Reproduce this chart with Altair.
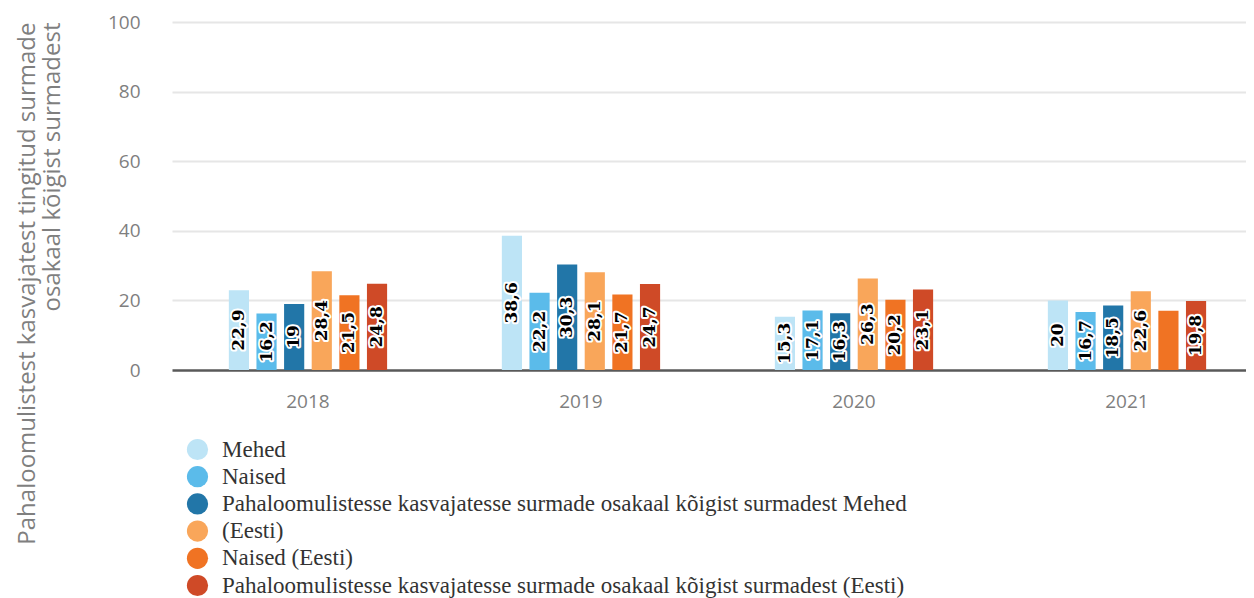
import altair as alt
import pandas as pd

years = ["2018", "2019", "2020", "2021"]
series = [
    "Mehed",
    "Naised",
    "Pahaloomulistesse kasvajatesse surmade osakaal kõigist surmadest Mehed",
    "(Eesti)",
    "Naised (Eesti)",
    "Pahaloomulistesse kasvajatesse surmade osakaal kõigist surmadest (Eesti)",
]
colors = ["#bde4f6", "#5bbbea", "#2276a8", "#f9a65a", "#f07323", "#cf4a27"]

values = {
    "Mehed": [22.9, 38.6, 15.3, 20],
    "Naised": [16.2, 22.2, 17.1, 16.7],
    "Pahaloomulistesse kasvajatesse surmade osakaal kõigist surmadest Mehed": [19, 30.3, 16.3, 18.5],
    "(Eesti)": [28.4, 28.1, 26.3, 22.6],
    "Naised (Eesti)": [21.5, 21.7, 20.2, 17.0],
    "Pahaloomulistesse kasvajatesse surmade osakaal kõigist surmadest (Eesti)": [24.8, 24.7, 23.1, 19.8],
}
labelled = {
    "Naised (Eesti)": [True, True, True, False],
}

rows = []
for s in series:
    for i, y in enumerate(years):
        rows.append({
            "year": y,
            "series": s,
            "value": values[s][i],
            "show": labelled.get(s, [True] * 4)[i],
        })
df = pd.DataFrame(rows)

base = alt.Chart(df).encode(
    x=alt.X("year:N", sort=years, title=None,
            scale=alt.Scale(paddingInner=0.4, paddingOuter=0.167, align=0.593),
            axis=alt.Axis(labelAngle=0, labelFont="Open Sans", labelFontSize=19,
                          labelColor="#7f7f7f", labelPadding=22, ticks=False,
                          domain=False)),
    xOffset=alt.XOffset("series:N", sort=series,
                        scale=alt.Scale(paddingInner=0.27, paddingOuter=0.1)),
)

bars = base.mark_bar().encode(
    y=alt.Y("value:Q", scale=alt.Scale(domain=[0, 100]), title=[
        "Pahaloomulistest kasvajatest tingitud surmade",
        "osakaal kõigist surmadest"],
        axis=alt.Axis(values=[0, 20, 40, 60, 80, 100], ticks=False, domain=False,
                      labelFont="Open Sans", labelFontSize=19, labelColor="#7f7f7f",
                      labelPadding=32,
                      gridColor={"condition": {"test": "datum.value === 0", "value": "#595959"},
                                 "value": "#e6e6e6"},
                      gridWidth={"condition": {"test": "datum.value === 0", "value": 2.5},
                                 "value": 2},
                      titleFont="Open Sans", titleFontSize=24, titleFontWeight="normal",
                      titleColor="#7f7f7f", titleAnchor="end", titleAlign="right",
                      titlePadding=43, titleLineHeight=25)),
    color=alt.Color("series:N", sort=series,
                    scale=alt.Scale(domain=series, range=colors),
                    legend=alt.Legend(title=None, orient="none", legendX=14, legendY=416,
                                      direction="vertical", symbolType="circle",
                                      symbolSize=450, symbolStrokeWidth=0,
                                      labelFont="Liberation Serif", labelFontSize=23,
                                      labelColor="#333333", labelOffset=13,
                                      rowPadding=3.2, padding=0, labelLimit=1000)),
)

text_layer_data = base.transform_filter("datum.show").transform_calculate(
    label="replace(format(datum.value, '.1~f'), '.', ',')",
    half="datum.value / 2",
)

halo = text_layer_data.mark_text(
    angle=270, font="DejaVu Serif", fontWeight="bold", fontSize=17,
    stroke="white", strokeWidth=4, strokeJoin="round", fill="white",
    align="center", baseline="middle",
).encode(y=alt.Y("half:Q"), text="label:N")

txt = text_layer_data.mark_text(
    angle=270, font="DejaVu Serif", fontWeight="bold", fontSize=17,
    color="black", align="center", baseline="middle",
).encode(y=alt.Y("half:Q"), text="label:N")

chart = alt.layer(bars, halo, txt).properties(
    width=1074, height=348, padding={"top": 5, "left": 7, "right": 0, "bottom": 0},
).configure_view(stroke=None)

chart.save("out.html", embed_options={"renderer": "svg", "actions": False})
